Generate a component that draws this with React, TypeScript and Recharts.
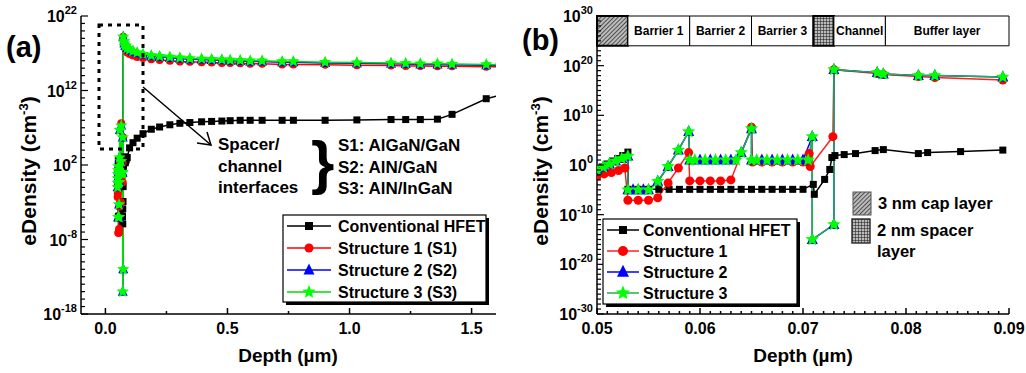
import React from "react";
import { LineChart, Line, XAxis, YAxis, ReferenceArea } from "recharts";

// depth (µm) and log10 of eDensity (cm^-3).
// "near" = 0.05–0.09 µm (the whole of panel b), "far" = rest of panel a.
const hfetDepthNear = [0.05, 0.0505, 0.051, 0.0515, 0.052, 0.0525, 0.053, 0.053, 0.054, 0.055, 0.056, 0.057, 0.058, 0.059, 0.06, 0.061, 0.062, 0.063, 0.064, 0.065, 0.066, 0.067, 0.068, 0.069, 0.07, 0.071, 0.0711, 0.0721, 0.0726, 0.0728, 0.0731, 0.074, 0.0751, 0.077, 0.0778, 0.0812, 0.0821, 0.0853, 0.0894];
const hfetLogNear = [-1.0, -0.4, 0.2, 0.8, 1.3, 1.9, 2.6, -4.9, -4.9, -4.9, -4.9, -4.9, -4.9, -4.9, -4.9, -4.9, -4.9, -4.9, -4.9, -4.9, -4.9, -4.9, -4.9, -4.9, -4.9, -3.9, -5.9, -2.9, -0.9, 1.5, 1.9, 2.1, 2.3, 2.9, 3.1, 2.3, 2.5, 2.7, 3.0];

const s1DepthNear = [0.05, 0.0507, 0.0514, 0.0521, 0.0527, 0.053, 0.054, 0.055, 0.0559, 0.0569, 0.0579, 0.0589, 0.059, 0.06, 0.061, 0.062, 0.063, 0.065, 0.0651, 0.066, 0.067, 0.068, 0.069, 0.07, 0.0706, 0.0707, 0.0729, 0.073, 0.0772, 0.0778, 0.0812, 0.0828, 0.0894];
const s1LogNear = [-2.3, -1.8, -1.5, -1.1, -0.6, -7.1, -7.1, -7.1, -6.6, -3.6, -0.6, 2.5, -3.2, -3.2, -3.2, -3.2, -3.0, 7.6, 0.6, 0.6, 0.6, 0.6, 0.6, 0.6, 2.3, -0.3, 5.7, 19.2, 18.4, 18.2, 17.8, 17.6, 17.1];

const s2DepthNear = [0.05, 0.0506, 0.0512, 0.0518, 0.0524, 0.053, 0.053, 0.0535, 0.054, 0.0545, 0.055, 0.0559, 0.0569, 0.0579, 0.0589, 0.059, 0.06, 0.061, 0.062, 0.063, 0.064, 0.065, 0.065, 0.066, 0.067, 0.068, 0.069, 0.07, 0.0709, 0.0709, 0.073, 0.073, 0.0772, 0.0778, 0.0812, 0.0828, 0.0894];
const s2LogNear = [-1.0, -0.4, 0.2, 0.8, 1.3, 1.8, -5.0, -5.0, -5.0, -5.0, -5.0, -3.3, -0.3, 3.0, 6.7, 1.0, 1.0, 1.0, 1.0, 1.0, 2.5, 7.3, 1.0, 1.0, 1.0, 1.0, 1.0, 1.0, 5.7, -15, -12, 19.2, 18.6, 18.3, 18.0, 18.0, 17.7];

const s3DepthNear = [0.05, 0.0506, 0.0512, 0.0518, 0.0524, 0.053, 0.053, 0.054, 0.055, 0.0559, 0.0569, 0.0579, 0.0589, 0.059, 0.0595, 0.0605, 0.0615, 0.0625, 0.0635, 0.064, 0.065, 0.065, 0.0655, 0.0665, 0.0675, 0.0685, 0.0695, 0.0705, 0.0709, 0.0709, 0.073, 0.073, 0.0772, 0.0778, 0.0812, 0.0828, 0.0894];
const s3LogNear = [-1.0, -0.4, 0.2, 0.8, 1.3, 1.8, -5.0, -5.0, -5.0, -3.3, -0.3, 3.0, 6.7, 1.0, 1.0, 1.0, 1.0, 1.0, 1.0, 2.5, 7.3, 1.0, 1.0, 1.0, 1.0, 1.0, 1.0, 1.0, 5.7, -15, -12, 19.2, 18.6, 18.3, 18.0, 18.0, 17.7];

const farDepth = [0.099, 0.113, 0.13, 0.154, 0.188, 0.222, 0.264, 0.305, 0.346, 0.394, 0.435, 0.477, 0.511, 0.552, 0.593, 0.642, 0.724, 0.77, 0.9, 1.03, 1.17, 1.23, 1.29, 1.36, 1.42, 1.56, 1.62];
const hfetLogFar = [4.3, 5.0, 5.6, 6.2, 6.8, 7.1, 7.4, 7.6, 7.7, 7.8, 7.85, 7.9, 7.95, 8.0, 8.0, 8.0, 8.0, 8.0, 8.0, 8.05, 8.1, 8.1, 8.1, 8.15, 8.8, 10.9, 11.4];
const s1LogFar = [16.9, 16.7, 16.5, 16.35, 16.2, 16.1, 16.0, 15.9, 15.85, 15.8, 15.75, 15.7, 15.7, 15.65, 15.6, 15.6, 15.5, 15.5, 15.45, 15.4, 15.35, 15.3, 15.3, 15.25, 15.25, 15.2, 15.2];
const s2LogFar = [17.4, 17.2, 17.0, 16.8, 16.6, 16.5, 16.4, 16.3, 16.2, 16.15, 16.1, 16.05, 16.0, 15.95, 15.9, 15.9, 15.8, 15.8, 15.7, 15.65, 15.6, 15.55, 15.5, 15.5, 15.45, 15.4, 15.35];
const s3LogFar = [17.5, 17.3, 17.1, 16.9, 16.7, 16.6, 16.5, 16.4, 16.3, 16.25, 16.2, 16.15, 16.1, 16.05, 16.0, 16.0, 15.9, 15.9, 15.8, 15.75, 15.7, 15.65, 15.6, 15.6, 15.55, 15.5, 15.45];

// axis ticks
const xMajorsA = [0, 0.5, 1.0, 1.5];
const xMinorsA = [0.25, 0.75, 1.25];
const yLabelExpA = [-18, -8, 2, 12, 22];
const xMajorsB = [0.05, 0.06, 0.07, 0.08, 0.09];
const yLabelExpB = [-30, -20, -10, 0, 10, 20, 30];

const legendA = ["Conventional HFET", "Structure 1 (S1)", "Structure 2 (S2)", "Structure 3 (S3)"];
const legendB = ["Conventional HFET", "Structure 1", "Structure 2", "Structure 3"];
const interfaceNames = ["S1: AlGaN/GaN", "S2: AlN/GaN", "S3: AlN/InGaN"];

// layer band on top of panel b: [from, to, label, fill]
const layers: [number, number, string, string][] = [
  [0.05, 0.053, "", "url(#capHatch)"],
  [0.053, 0.059, "Barrier 1", "#fff"],
  [0.059, 0.065, "Barrier 2", "#fff"],
  [0.065, 0.071, "Barrier 3", "#fff"],
  [0.071, 0.073, "", "url(#spacerGrid)"],
  [0.073, 0.078, "Channel", "#fff"],
  [0.078, 0.09, "Buffer layer", "#fff"],
];

const FONT = "'Liberation Sans', Arial, Helvetica, sans-serif";

const pts = (d: number[], l: number[]) => d.map((x, i) => ({ x, y: Math.pow(10, l[i]) }));

type Kind = "square" | "circle" | "triangle" | "star";

function starPoints(cx: number, cy: number, R: number) {
  const out: string[] = [];
  for (let i = 0; i < 10; i++) {
    const a = -Math.PI / 2 + (i * Math.PI) / 5;
    const rr = i % 2 === 0 ? R : R * 0.45;
    out.push(`${cx + rr * Math.cos(a)},${cy + rr * Math.sin(a)}`);
  }
  return out.join(" ");
}

function Marker({ kind, cx, cy, s }: { kind: Kind; cx?: number; cy?: number; s: number }) {
  if (cx == null || cy == null || isNaN(cx) || isNaN(cy)) return null;
  if (kind === "square") return <rect x={cx - s / 2} y={cy - s / 2} width={s} height={s} fill="#000" />;
  if (kind === "circle") return <circle cx={cx} cy={cy} r={s / 2} fill="#ff0000" />;
  if (kind === "triangle")
    return <polygon points={`${cx},${cy - s * 0.6} ${cx - s / 2},${cy + s * 0.4} ${cx + s / 2},${cy + s * 0.4}`} fill="#0000ff" />;
  return <polygon points={starPoints(cx, cy, s / 2)} fill="#00ff00" />;
}

const dotOf = (kind: Kind, s: number) => (p: any) =>
  <Marker key={`${kind}-${p.index}`} kind={kind} cx={p.cx} cy={p.cy} s={s} />;

const seriesA = [
  { key: "hfet", color: "#000", kind: "square" as Kind, size: 7, data: pts([...hfetDepthNear, ...farDepth], [...hfetLogNear, ...hfetLogFar]) },
  { key: "s1", color: "#ff0000", kind: "circle" as Kind, size: 8, data: pts([...s1DepthNear, ...farDepth], [...s1LogNear, ...s1LogFar]) },
  { key: "s2", color: "#0000ff", kind: "triangle" as Kind, size: 10, data: pts([...s2DepthNear, ...farDepth], [...s2LogNear, ...s2LogFar]) },
  { key: "s3", color: "#00dd00", kind: "star" as Kind, size: 13, data: pts([...s3DepthNear, ...farDepth], [...s3LogNear, ...s3LogFar]) },
];
const seriesB = [
  { key: "hfet", color: "#000", kind: "square" as Kind, size: 7, data: pts(hfetDepthNear, hfetLogNear) },
  { key: "s1", color: "#ff2020", kind: "circle" as Kind, size: 9, data: pts(s1DepthNear, s1LogNear) },
  { key: "s2", color: "#0000ff", kind: "triangle" as Kind, size: 11, data: pts(s2DepthNear, s2LogNear) },
  { key: "s3", color: "#22b14c", kind: "star" as Kind, size: 14, data: pts(s3DepthNear, s3LogNear) },
];

const near = (a: number, b: number) => Math.abs(a - b) < 1e-9;

function xTick(majors: number[], side: "bottom" | "top", digits: number) {
  return (p: any) => {
    const v = p.payload.value;
    const major = majors.some((m) => near(m, v));
    const len = major ? 6 : 3;
    const dir = side === "bottom" ? -1 : 1;
    return (
      <g>
        <line x1={p.x} x2={p.x} y1={p.y} y2={p.y + dir * len} stroke="#000" strokeWidth={1.5} />
        {side === "bottom" && major && (
          <text x={p.x} y={p.y + 20} textAnchor="middle" fontSize={16} fontWeight="bold" fill="#000">
            {v.toFixed(digits)}
          </text>
        )}
      </g>
    );
  };
}

function yTick(labels: number[], side: "left" | "right") {
  return (p: any) => {
    const k = Math.round(Math.log10(p.payload.value));
    const major = labels.includes(k);
    const len = major ? 7 : 4;
    const dir = side === "left" ? 1 : -1;
    return (
      <g>
        <line x1={p.x} x2={p.x + dir * len} y1={p.y} y2={p.y} stroke="#000" strokeWidth={1.2} />
        {side === "left" && major && (
          <text x={p.x - 4} y={p.y + 6} textAnchor="end" fontSize={16} fontWeight="bold" fill="#000">
            <tspan>10</tspan>
            <tspan dy={-8} fontSize={11}>{k}</tspan>
          </text>
        )}
      </g>
    );
  };
}

const decades = (lo: number, hi: number) => {
  const out: number[] = [];
  for (let k = lo; k <= hi; k++) out.push(Math.pow(10, k));
  return out;
};
const xTicksA = [...xMajorsA, ...xMinorsA].sort((a, b) => a - b);
const xTicksB: number[] = [];
for (let i = 0; i <= 40; i++) xTicksB.push((50 + i) / 1000);

function LegendBox({ x, y, w, h, rows, rowH, lineLen, textX, series }: any) {
  return (
    <g>
      <rect x={x + 3} y={y + 3} width={w} height={h} fill="#000" />
      <rect x={x} y={y} width={w} height={h} fill="#fff" stroke="#000" strokeWidth={1.2} />
      {rows.map((label: string, i: number) => {
        const cy = y + 11 + i * rowH;
        const s = series[i];
        return (
          <g key={label}>
            <line x1={x + 4} x2={x + 4 + lineLen} y1={cy} y2={cy} stroke={s.color} strokeWidth={1.5} />
            <Marker kind={s.kind} cx={x + 4 + lineLen / 2} cy={cy} s={s.size + 1} />
            <text x={textX} y={cy + 6} fontSize={16} fontWeight="bold" fill="#000">{label}</text>
          </g>
        );
      })}
    </g>
  );
}

function YTitle({ x, y }: { x: number; y: number }) {
  return (
    <text x={x} y={y} transform={`rotate(-90 ${x} ${y})`} textAnchor="middle" fontSize={21} fontWeight="bold" fill="#000">
      eDensity (cm<tspan dy={-8} fontSize={13}>-3</tspan><tspan dy={8}>)</tspan>
    </text>
  );
}

function Patterns({ suffix }: { suffix: string }) {
  return (
    <defs>
      <pattern id={`capHatch${suffix}`} width="3" height="3" patternUnits="userSpaceOnUse" patternTransform="rotate(45)">
        <rect width="3" height="3" fill="#bbb" />
        <line x1="0" y1="0" x2="0" y2="3" stroke="#222" strokeWidth="1.4" />
      </pattern>
      <pattern id={`spacerGrid${suffix}`} width="3" height="3" patternUnits="userSpaceOnUse">
        <rect width="3" height="3" fill="#bbb" />
        <path d="M0 0H3M0 0V3" stroke="#111" strokeWidth="1" />
      </pattern>
    </defs>
  );
}

export default function App() {
  const axisStroke = { stroke: "#000", strokeWidth: 1.5 };
  return (
    <div style={{ position: "absolute", left: 0, top: 0, width: 1026, height: 373, background: "#fff", fontFamily: FONT }}>
      {/* panel (a) */}
      <div style={{ position: "absolute", left: 0, top: 0 }}>
        <LineChart width={520} height={373} margin={{ top: 16, right: 24, bottom: 29, left: 21 }}>
          <XAxis dataKey="x" type="number" domain={[-0.1, 1.6]} allowDataOverflow ticks={xTicksA} interval={0}
            tickSize={0} tickMargin={0} tickLine={false} axisLine={axisStroke} height={30} tick={xTick(xMajorsA, "bottom", 1)} />
          <XAxis xAxisId="top" orientation="top" dataKey="x" type="number" domain={[-0.1, 1.6]} allowDataOverflow ticks={xTicksA}
            interval={0} tickSize={0} tickMargin={0} tickLine={false} axisLine={axisStroke} height={0} tick={xTick(xMajorsA, "top", 1)} />
          <YAxis type="number" scale="log" domain={[1e-18, 1e22]} allowDataOverflow ticks={decades(-18, 22)} interval={0}
            tickSize={0} tickMargin={0} tickLine={false} axisLine={axisStroke} width={60} tick={yTick(yLabelExpA, "left")} />
          <YAxis yAxisId="r" orientation="right" type="number" scale="log" domain={[1e-18, 1e22]} allowDataOverflow ticks={decades(-18, 22)}
            interval={0} tickSize={0} tickMargin={0} tickLine={false} axisLine={axisStroke} width={0} tick={yTick(yLabelExpA, "right")} />
          {seriesA.map((s) => (
            <Line key={s.key} data={s.data} dataKey="y" type="linear" stroke={s.color} strokeWidth={1.5}
              dot={dotOf(s.kind, s.size)} activeDot={false} isAnimationActive={false} />
          ))}
        </LineChart>
      </div>

      {/* panel (b) */}
      <div style={{ position: "absolute", left: 520, top: 0 }}>
        <LineChart width={506} height={373} margin={{ top: 16, right: 17, bottom: 29, left: 17 }}>
          <Patterns suffix="" />
          <XAxis dataKey="x" type="number" domain={[0.05, 0.09]} allowDataOverflow ticks={xTicksB} interval={0}
            tickSize={0} tickMargin={0} tickLine={false} axisLine={axisStroke} height={30} tick={xTick(xMajorsB, "bottom", 2)} />
          <XAxis xAxisId="top" orientation="top" dataKey="x" type="number" domain={[0.05, 0.09]} allowDataOverflow ticks={xTicksB}
            interval={0} tickSize={0} tickMargin={0} tickLine={false} axisLine={axisStroke} height={0} tick={xTick(xMajorsB, "top", 2)} />
          <YAxis type="number" scale="log" domain={[1e-30, 1e30]} allowDataOverflow ticks={decades(-30, 30)} interval={0}
            tickSize={0} tickMargin={0} tickLine={false} axisLine={axisStroke} width={60} tick={yTick(yLabelExpB, "left")} />
          <YAxis yAxisId="r" orientation="right" type="number" scale="log" domain={[1e-30, 1e30]} allowDataOverflow ticks={decades(-30, 30)}
            interval={0} tickSize={0} tickMargin={0} tickLine={false} axisLine={axisStroke} width={0} tick={yTick(yLabelExpB, "right")} />
          {layers.map(([x1, x2, label, fill]) => (
            <ReferenceArea key={`${x1}`} x1={x1} x2={x2} y1={1e24} y2={1e30} fill={fill} fillOpacity={1}
              stroke="#000" strokeWidth={label ? 1 : 2} ifOverflow="visible"
              label={label ? { value: label, position: "center", fontSize: 12, fontWeight: "bold", fill: "#000" } : undefined} />
          ))}
          {seriesB.map((s) => (
            <Line key={s.key} data={s.data} dataKey="y" type="linear" stroke={s.color} strokeWidth={1.5}
              dot={dotOf(s.kind, s.size)} activeDot={false} isAnimationActive={false} />
          ))}
        </LineChart>
      </div>

      {/* annotations, titles and legends */}
      <svg width={1026} height={373} style={{ position: "absolute", left: 0, top: 0, pointerEvents: "none" }} fontFamily={FONT}>
        <Patterns suffix="L" />

        <text x={6} y={57} fontSize={29} fontWeight="bold">(a)</text>
        <text x={522} y={50} fontSize={29} fontWeight="bold">(b)</text>

        <YTitle x={36} y={171} />
        <YTitle x={548} y={171} />
        <text x={288} y={362} textAnchor="middle" fontSize={19} fontWeight="bold">Depth (µm)</text>
        <text x={803} y={362} textAnchor="middle" fontSize={19} fontWeight="bold">Depth (µm)</text>

        <rect x={99} y={25} width={44} height={124} fill="none" stroke="#000" strokeWidth={3} strokeDasharray="4 5" />
        <line x1={143} y1={87} x2={211} y2={145} stroke="#000" strokeWidth={1.5} />
        <polyline points="197,143 211,145 207,132" fill="none" stroke="#000" strokeWidth={1.5} />
        <text x={218} y={150} fontSize={17} fontWeight="bold">Spacer/</text>
        <text x={218} y={172} fontSize={17} fontWeight="bold">channel</text>
        <text x={218} y={193} fontSize={17} fontWeight="bold">interfaces</text>
        <text x={311} y={183} fontSize={60} fontWeight="bold">{"}"}</text>
        {interfaceNames.map((t, i) => (
          <text key={t} x={338} y={151 + i * 21.5} fontSize={17} fontWeight="bold">{t}</text>
        ))}

        <LegendBox x={283} y={215} w={203} h={87} rows={legendA} rowH={22} lineLen={44} textX={338} series={seriesA} />
        <LegendBox x={603} y={219} w={194} h={85} rows={legendB} rowH={21} lineLen={32} textX={643} series={seriesB} />

        <rect x={853} y={192} width={18} height={23} fill="url(#capHatchL)" stroke="#555" strokeWidth={1} />
        <rect x={852} y={219} width={18} height={24} fill="url(#spacerGridL)" stroke="#333" strokeWidth={1.5} />
        <text x={878} y={209} fontSize={16.5} fontWeight="bold">3 nm cap layer</text>
        <text x={877} y={236} fontSize={16.5} fontWeight="bold">2 nm spacer</text>
        <text x={877} y={257} fontSize={16.5} fontWeight="bold">layer</text>
      </svg>
    </div>
  );
}
